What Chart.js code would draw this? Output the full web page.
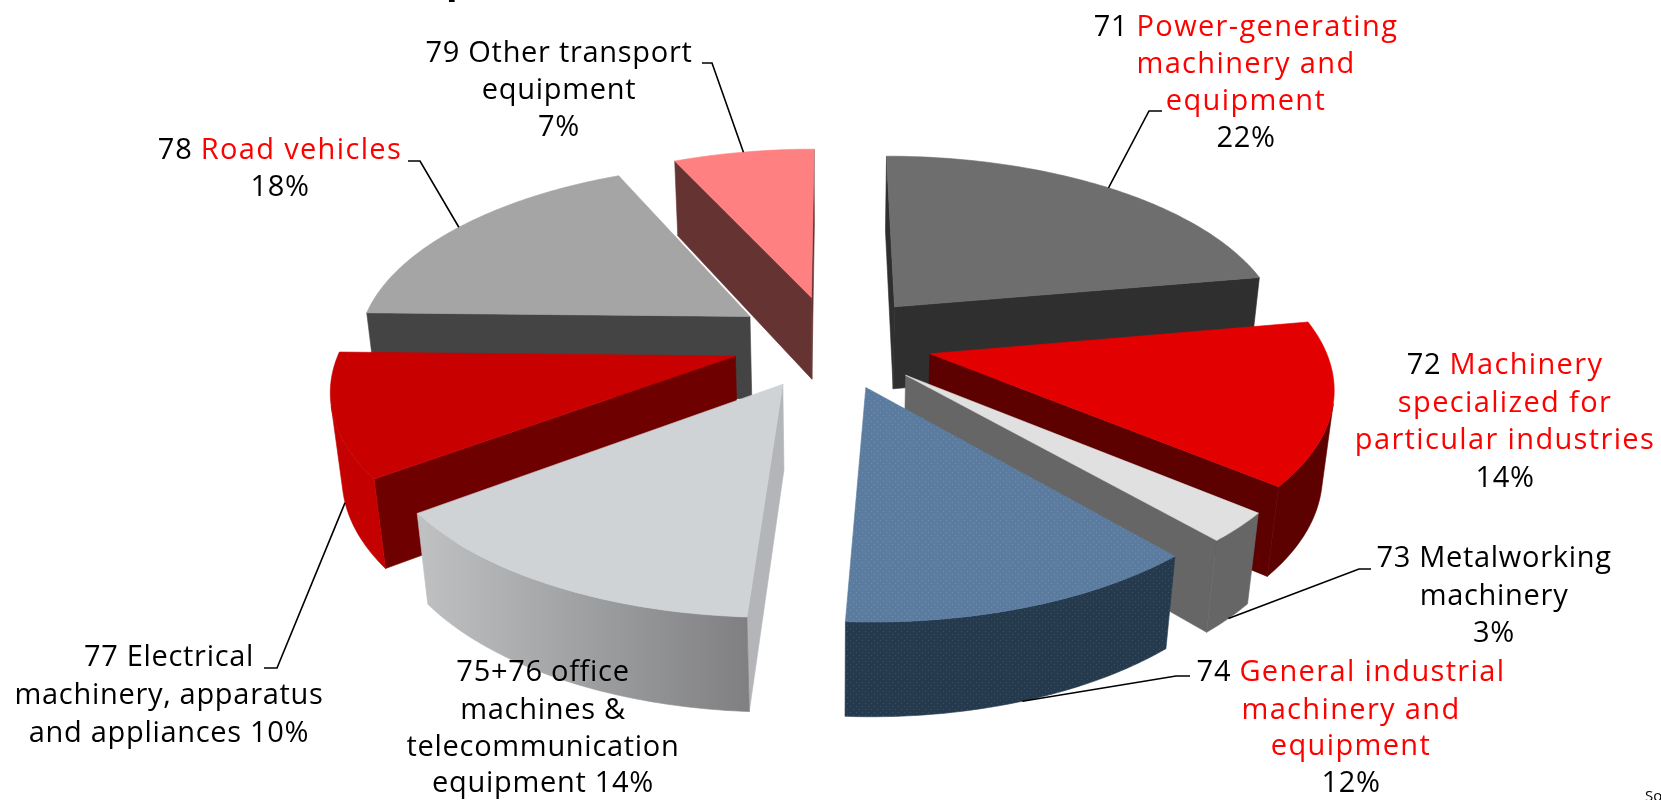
<!DOCTYPE html>
<html><head><meta charset="utf-8">
<style>html,body{margin:0;padding:0;background:#fff}#w{width:1661px;height:800px;overflow:hidden}</style>
<script src="https://cdn.jsdelivr.net/npm/chart.js@4/dist/chart.umd.min.js"></script>
</head><body><div id="w"><canvas id="c" width="1661" height="800"></canvas></div>
<script>
const categories=["71 Power-generating machinery and equipment","72 Machinery specialized for particular industries","73 Metalworking machinery","74 General industrial machinery and equipment","75+76 office machines & telecommunication equipment","77 Electrical machinery, apparatus and appliances","78 Road vehicles","79 Other transport equipment"];
const shares=[22.2,13.85,2.5,12.3,13.95,10.49,17.82,6.83];
const topColors=["#6e6e6e","#e30000","#e0e0e0","#5b7c9f","#d0d3d6","#c80000","#a5a5a5","#ff8080"];
const sideColors=["#2f2f2f","#5c0000","#666666","#263a4e","#b4b5b9","#6e0000","#444444","#663333"];
const rimLeft=["#2f2f2f","#5c0000","#666666","#263a4e","#bfc1c3","#c50000","#444444","#663333"];
const rimRight=["#2f2f2f","#5c0000","#666666","#263a4e","#808082","#c50000","#444444","#663333"];
const labelLines=[
 [[["71 ","k"],["Power-generating","r"]],[["machinery and","r"]],[["equipment","r"]],[["22%","k"]]],
 [[["72 ","k"],["Machinery","r"]],[["specialized for","r"]],[["particular industries","r"]],[["14%","k"]]],
 [[["73 Metalworking","k"]],[["machinery","k"]],[["3%","k"]]],
 [[["74 ","k"],["General industrial","r"]],[["machinery and","r"]],[["equipment","r"]],[["12%","k"]]],
 [[["75+76 office","k"]],[["machines &","k"]],[["telecommunication","k"]],[["equipment 14%","k"]]],
 [[["77 Electrical","k"]],[["machinery, apparatus","k"]],[["and appliances 10%","k"]]],
 [[["78 ","k"],["Road vehicles","r"]],[["18%","k"]]],
 [[["79 Other transport","k"]],[["equipment","k"]],[["7%","k"]]]
];
const labelX=[1246,1505,1494,1351,543,169,280,559];
const labelY=[[28,65,102,139],[366,404,441,479],[559,597,634],[673,711,747,784],[673,711,748,784],[658,696,734],[151,188],[54,91,128]];
// leader elbow: [label end x, elbow x, y, attach to bottom rim?]; null = no leader
const leaders=[[1162,1149,111,0],null,[1371,1359,569,1],[1190,1176,676,1],null,[264,277,668,1],[408,420,161,0],[702,712,63,0]];
// view model of the tilted, exploded pie
const VIEW={cx:832,cy:341.6,sx:393,sy:183.3,persp:0.152,explode:0.255,drop:85.5,dropW:0.023};
const FONT='"Open Sans"';const FSIZE=29;

function project(a,mid,r,low){
  const X=VIEW.explode*Math.sin(mid)+r*Math.sin(a), Z=-VIEW.explode*Math.cos(mid)-r*Math.cos(a);
  const w=1-VIEW.persp*Z+(low?VIEW.dropW:0);
  return {x:VIEW.cx+VIEW.sx*X/w, y:VIEW.cy+(VIEW.sy*Z+(low?VIEW.drop:0))/w};
}
function poly(ctx,pts,fill){ctx.beginPath();pts.forEach((p,i)=>i?ctx.lineTo(p.x,p.y):ctx.moveTo(p.x,p.y));ctx.closePath();ctx.fillStyle=fill;ctx.fill();ctx.strokeStyle=fill;ctx.lineWidth=0.6;ctx.stroke();}
function front(pts){let s=0;pts.forEach((p,i)=>{const q=pts[(i+1)%pts.length];s+=p.x*q.y-q.x*p.y;});return s<0;}
function dots(ctx,base,dot){const c=document.createElement('canvas');c.width=6;c.height=6;const g=c.getContext('2d');g.fillStyle=base;g.fillRect(0,0,6,6);g.fillStyle=dot;g.fillRect(1,1,1,1);g.fillRect(4,4,1,1);return ctx.createPattern(c,'repeat');}

const pie3d={id:'pie3d',
 beforeDatasetDraw(chart){
  const ctx=chart.ctx,arcs=chart.getDatasetMeta(0).data;
  const items=arcs.map((arc,i)=>{const a0=arc.startAngle+Math.PI/2,a1=arc.endAngle+Math.PI/2;return{i,a0,a1,mid:(a0+a1)/2};});
  items.sort((p,q)=>-Math.cos(p.mid)-(-Math.cos(q.mid)));
  const topP=dots(ctx,topColors[3],"#6f90b3"),sideP=dots(ctx,sideColors[3],"#3c5266");
  items.forEach(({i,a0,a1,mid})=>{
   const n=Math.max(12,Math.round((a1-a0)*60));const upper=[],lower=[];
   for(let k=0;k<=n;k++){const a=a0+(a1-a0)*k/n;upper.push(project(a,mid,1,false));lower.push(project(a,mid,1,true));}
   const apexU=project(a0,mid,0,false),apexL=project(a0,mid,0,true);
   const side=i===3?sideP:sideColors[i];
   const q0=[apexU,upper[0],lower[0],apexL],q1=[upper[n],apexU,apexL,lower[n]];
   if(front(q0))poly(ctx,q0,side);
   if(front(q1))poly(ctx,q1,side);
   const grad=ctx.createLinearGradient(Math.min(upper[0].x,upper[n].x),0,Math.max(upper[0].x,upper[n].x),0);
   grad.addColorStop(0,rimLeft[i]);grad.addColorStop(1,rimRight[i]);
   // outer wall: merge the viewer-facing segments into one shape
   let runU=[],runL=[];
   const flush=()=>{if(runU.length>1)poly(ctx,[...runU,...runL.reverse()],i===3?sideP:grad);runU=[];runL=[];};
   for(let k=0;k<n;k++){
    if(front([upper[k],upper[k+1],lower[k+1],lower[k]])){
     if(!runU.length){runU.push(upper[k]);runL.push(lower[k]);}
     runU.push(upper[k+1]);runL.push(lower[k+1]);
    } else flush();
   }
   flush();
   poly(ctx,[apexU,...upper],i===3?topP:topColors[i]);
  });
  return false;
 },
 afterDatasetsDraw(chart){
  const ctx=chart.ctx,arcs=chart.getDatasetMeta(0).data;
  ctx.save();
  // leaders
  ctx.strokeStyle="#000";ctx.lineWidth=1.6;
  leaders.forEach((l,i)=>{if(!l)return;const a0=arcs[i].startAngle+Math.PI/2,a1=arcs[i].endAngle+Math.PI/2,m=(a0+a1)/2;
   const p=project(m,m,1,!!l[3]);ctx.beginPath();ctx.moveTo(l[0],l[2]);ctx.lineTo(l[1],l[2]);ctx.lineTo(p.x,p.y);ctx.stroke();});
  // labels
  const style=r=>{ctx.font='500 '+FSIZE+'px '+FONT;ctx.letterSpacing=r[1]==='r'?'1.35px':'0.7px';ctx.fillStyle=r[1]==='r'?"#ff0000":"#000";};
  ctx.textBaseline='middle';ctx.textAlign='left';
  labelLines.forEach((lines,i)=>{lines.forEach((runs,j)=>{
    const w=runs.reduce((s,r)=>{style(r);return s+ctx.measureText(r[0]).width;},0);let x=labelX[i]-w/2;
    runs.forEach(r=>{style(r);ctx.fillText(r[0],x,labelY[i][j]);x+=ctx.measureText(r[0]).width;});
  });});
  // cropped fragments at the page edges
  ctx.letterSpacing='0px';
  ctx.fillStyle="#000";ctx.font='bold 38px '+FONT;ctx.textBaseline='alphabetic';ctx.fillText("p",446,-7);
  ctx.font='15px '+FONT;ctx.fillText("Source",1645,801);
  ctx.restore();
 }
};
new Chart(document.getElementById('c'),{type:'pie',
 data:{labels:categories,datasets:[{data:shares,backgroundColor:topColors,borderWidth:0}]},
 options:{responsive:false,animation:false,rotation:0,layout:{padding:0},plugins:{legend:{display:false},tooltip:{enabled:false},title:{display:false}}},
 plugins:[pie3d]});
</script></body></html>
